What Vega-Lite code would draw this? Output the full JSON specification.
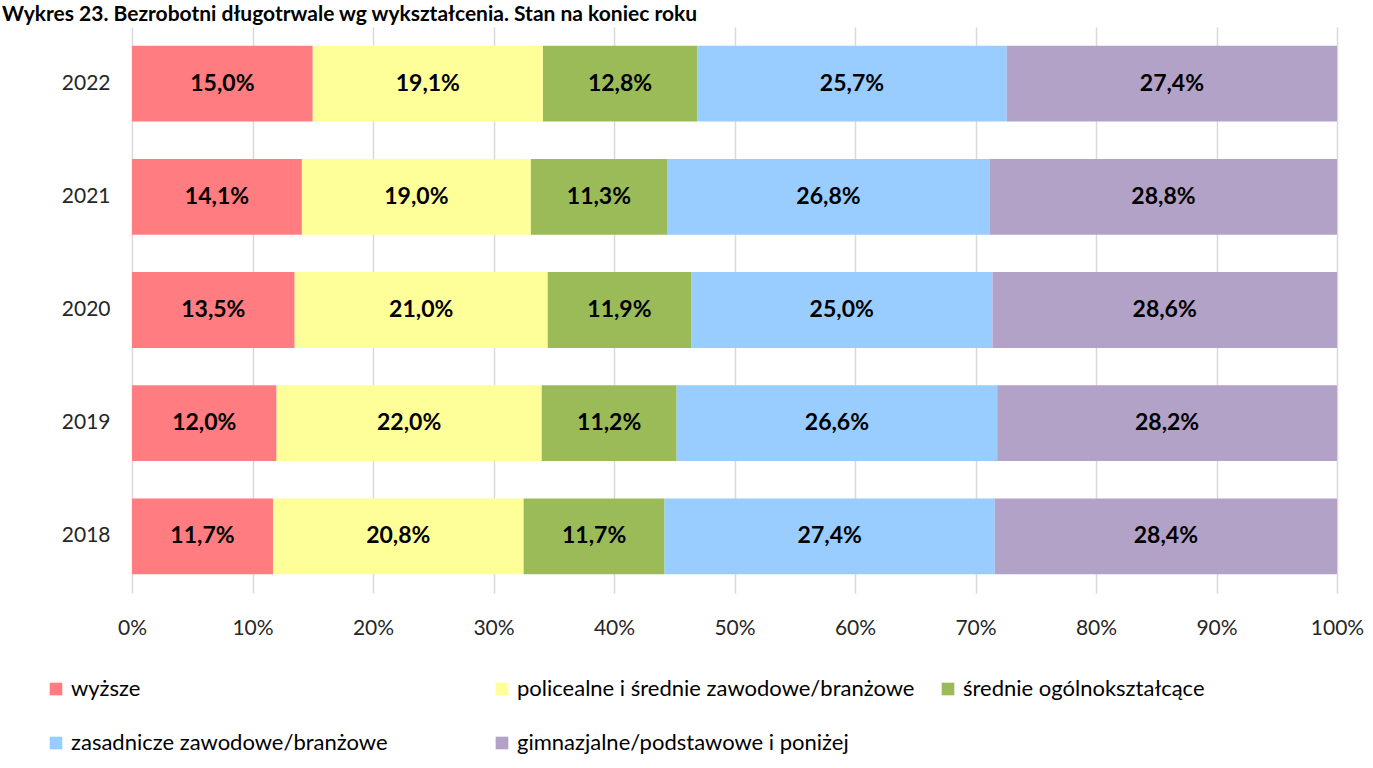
{
  "$schema": "https://vega.github.io/schema/vega-lite/v6.json",
  "width": 1205,
  "height": 566,
  "autosize": {"type": "none"},
  "padding": {"left": 132, "top": 27, "right": 36, "bottom": 175},
  "background": "white",
  "config": {
    "locale": {"number": {"decimal": ",", "thousands": " ", "grouping": [3], "currency": ["", " zł"]}},
    "view": {"stroke": null},
    "font": "Lato"
  },
  "title": {
    "text": "Wykres 23. Bezrobotni długotrwale wg wykształcenia. Stan na koniec roku",
    "anchor": "start",
    "frame": "group",
    "dx": -130,
    "offset": 2,
    "font": "Lato",
    "fontSize": 21,
    "fontWeight": "bold",
    "color": "#000000"
  },
  "data": {
    "values": [
      {"year": "2022", "cat": "wyższe", "k": 1, "v": 0.150},
      {"year": "2022", "cat": "policealne i średnie zawodowe/branżowe", "k": 2, "v": 0.191},
      {"year": "2022", "cat": "średnie ogólnokształcące", "k": 3, "v": 0.128},
      {"year": "2022", "cat": "zasadnicze zawodowe/branżowe", "k": 4, "v": 0.257},
      {"year": "2022", "cat": "gimnazjalne/podstawowe i poniżej", "k": 5, "v": 0.274},
      {"year": "2021", "cat": "wyższe", "k": 1, "v": 0.141},
      {"year": "2021", "cat": "policealne i średnie zawodowe/branżowe", "k": 2, "v": 0.190},
      {"year": "2021", "cat": "średnie ogólnokształcące", "k": 3, "v": 0.113},
      {"year": "2021", "cat": "zasadnicze zawodowe/branżowe", "k": 4, "v": 0.268},
      {"year": "2021", "cat": "gimnazjalne/podstawowe i poniżej", "k": 5, "v": 0.288},
      {"year": "2020", "cat": "wyższe", "k": 1, "v": 0.135},
      {"year": "2020", "cat": "policealne i średnie zawodowe/branżowe", "k": 2, "v": 0.210},
      {"year": "2020", "cat": "średnie ogólnokształcące", "k": 3, "v": 0.119},
      {"year": "2020", "cat": "zasadnicze zawodowe/branżowe", "k": 4, "v": 0.250},
      {"year": "2020", "cat": "gimnazjalne/podstawowe i poniżej", "k": 5, "v": 0.286},
      {"year": "2019", "cat": "wyższe", "k": 1, "v": 0.120},
      {"year": "2019", "cat": "policealne i średnie zawodowe/branżowe", "k": 2, "v": 0.220},
      {"year": "2019", "cat": "średnie ogólnokształcące", "k": 3, "v": 0.112},
      {"year": "2019", "cat": "zasadnicze zawodowe/branżowe", "k": 4, "v": 0.266},
      {"year": "2019", "cat": "gimnazjalne/podstawowe i poniżej", "k": 5, "v": 0.282},
      {"year": "2018", "cat": "wyższe", "k": 1, "v": 0.117},
      {"year": "2018", "cat": "policealne i średnie zawodowe/branżowe", "k": 2, "v": 0.208},
      {"year": "2018", "cat": "średnie ogólnokształcące", "k": 3, "v": 0.117},
      {"year": "2018", "cat": "zasadnicze zawodowe/branżowe", "k": 4, "v": 0.274},
      {"year": "2018", "cat": "gimnazjalne/podstawowe i poniżej", "k": 5, "v": 0.284}
    ]
  },
  "transform": [
    {"stack": "v", "groupby": ["year"], "sort": [{"field": "k", "order": "ascending"}], "offset": "normalize", "as": ["s0", "s1"]},
    {"calculate": "(datum.s0 + datum.s1) / 2", "as": "mid"}
  ],
  "encoding": {
    "y": {
      "field": "year",
      "type": "nominal",
      "sort": "descending",
      "scale": {"paddingInner": 0.33, "paddingOuter": 0.165},
      "axis": {
        "title": null,
        "domain": false,
        "ticks": false,
        "labelPadding": 22,
        "labelFont": "Lato",
        "labelFontSize": 21,
        "labelColor": "#262626"
      }
    }
  },
  "layer": [
    {
      "mark": {"type": "bar"},
      "encoding": {
        "x": {
          "field": "s0",
          "type": "quantitative",
          "scale": {"domain": [0, 1], "nice": false},
          "axis": {
            "title": null,
            "format": ".0%",
            "values": [0, 0.1, 0.2, 0.3, 0.4, 0.5, 0.6, 0.7, 0.8, 0.9, 1],
            "domain": false,
            "ticks": false,
            "grid": true,
            "gridColor": "#d9d9d9",
            "gridWidth": 1.5,
            "labelPadding": 24,
            "labelFont": "Lato",
            "labelFontSize": 21,
            "labelColor": "#262626",
            "labelFlush": false
          }
        },
        "x2": {"field": "s1"},
        "color": {
          "field": "cat",
          "type": "nominal",
          "scale": {
            "domain": ["wyższe", "policealne i średnie zawodowe/branżowe", "średnie ogólnokształcące", "zasadnicze zawodowe/branżowe", "gimnazjalne/podstawowe i poniżej"],
            "range": ["#FF7C80", "#FFFF99", "#9BBB59", "#99CCFF", "#B3A2C7"]
          },
          "legend": {
            "title": null,
            "orient": "none",
            "legendX": -87,
            "legendY": 651,
            "direction": "horizontal",
            "columns": 3,
            "gridAlign": "all",
            "columnPadding": 22,
            "rowPadding": 32,
            "symbolType": "square",
            "symbolSize": 160,
            "symbolStrokeWidth": 0,
            "symbolOffset": 0,
            "labelOffset": 4,
            "labelFont": "Lato",
            "labelFontSize": 22,
            "labelColor": "#000000",
            "labelLimit": 600
          }
        }
      }
    },
    {
      "mark": {"type": "text", "font": "Lato", "fontSize": 23, "fontWeight": "bold", "color": "#000000", "align": "center", "baseline": "middle"},
      "encoding": {
        "x": {"field": "mid", "type": "quantitative"},
        "text": {"field": "v", "type": "quantitative", "format": ".1%"}
      }
    }
  ]
}
